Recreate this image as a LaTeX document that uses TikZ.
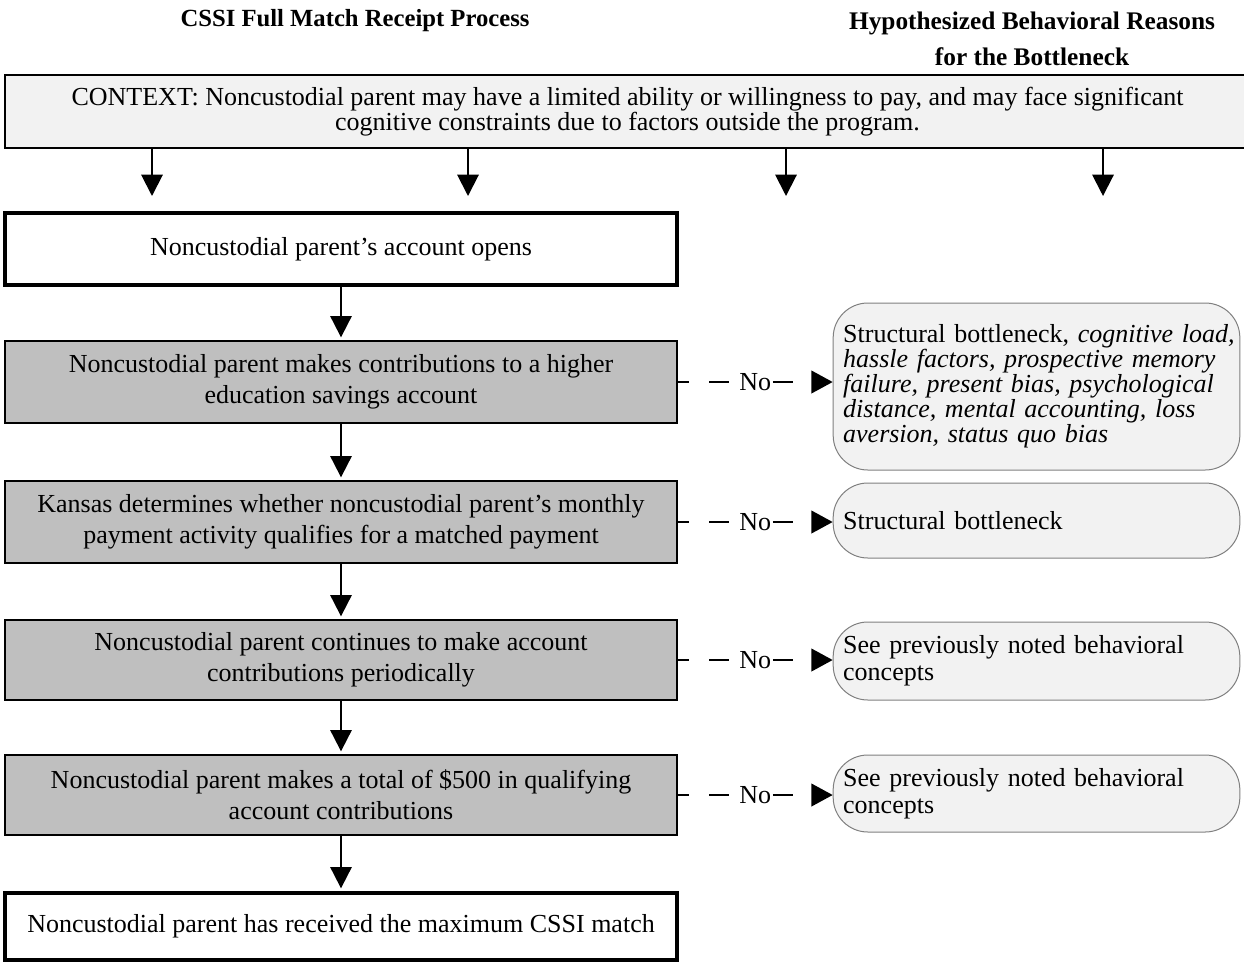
\documentclass[tikz,border=0pt]{standalone}
\usepackage{fontspec}
\setmainfont{Liberation Serif}
\usetikzlibrary{arrows.meta}
\definecolor{boxgray}{HTML}{BFBFBF}
\definecolor{palegray}{HTML}{F2F2F2}
\definecolor{edgegray}{HTML}{808080}

\begin{document}
\begin{tikzpicture}[x=0.75pt,y=-0.75pt,
  every node/.style={font=\fontsize{19.5}{23.25}\selectfont},
  flow/.style={line width=1.5pt,-{Triangle[length=16pt,width=16pt]},shorten >=2pt},
  nolink/.style={line width=1.5pt,dash pattern=on 15pt off 15pt},
  nolabel/.style={inner sep=1pt},
  process/.style={draw,line width=1.5pt,fill=boxgray,minimum width=504pt,
    minimum height=61.5pt,align=center,inner sep=0pt},
  endpoint/.style={process,line width=3pt,fill=white},
  reason/.style={draw=edgegray,line width=0.75pt,fill=palegray,rounded corners=26pt,
    text width=290pt,align=left,inner xsep=7.5pt,inner ysep=0pt}]
  \useasboundingbox (0,0) rectangle (1244,964);

  % headings
  \node[font=\fontsize{18.5}{27}\selectfont\bfseries] (head1) at (355,21) {CSSI Full Match Receipt Process};
  \node[font=\fontsize{19}{27}\selectfont\bfseries,align=center,anchor=north] (head2) at (1032,7)
    {Hypothesized Behavioral Reasons\\for the Bottleneck};

  % context
  \node[draw,line width=1.5pt,fill=palegray,minimum width=933.75pt,minimum height=54.75pt,
    align=center,inner sep=0pt,font=\fontsize{19.5}{18.75}\selectfont] (ctx) at (627.5,111.5)
    {CONTEXT: Noncustodial parent may have a limited ability or willingness to pay, and may face significant\\
     cognitive constraints due to factors outside the program.};
  \foreach \name/\xpos in {c1/152,c2/468,c3/786,c4/1103} {
    \coordinate (\name) at (\xpos,196);
    \draw[flow,shorten >=0pt] (ctx.south -| \name) -- (\name);
  }

  % process
  \node[endpoint,minimum height=54pt] (open) at (341,249) {Noncustodial parent’s account opens};
  \node[process] (contrib) at (341,382)
    {Noncustodial parent makes contributions to a higher\\education savings account};
  \node[process] (kansas) at (341,522)
    {Kansas determines whether noncustodial parent’s monthly\\payment activity qualifies for a matched payment};
  \node[process,minimum height=60pt] (cont) at (341,660)
    {Noncustodial parent continues to make account\\contributions periodically};
  \node[process,minimum height=60pt] (total) at (341,795)
    {Noncustodial parent makes a total of \$500 in qualifying\\account contributions};
  \node[endpoint,minimum height=50.25pt] (match) at (341,926.5)
    {Noncustodial parent has received the maximum CSSI match};

  \draw[flow] (open) -- (contrib);
  \draw[flow] (contrib) -- (kansas);
  \draw[flow] (kansas) -- (cont);
  \draw[flow] (cont) -- (total);
  \draw[flow] (total) -- (match);

  % reasons
  \node[reason,minimum height=125.25pt,font=\fontsize{19.5}{18.75}\selectfont] (r1) at (1036.5,386.5)
    {\mbox{Structural bottleneck, \textit{cognitive load,}}\\
     \textit{hassle factors, prospective memory}\\
     \textit{failure, present bias, psychological}\\
     \textit{distance, mental accounting, loss}\\
     \textit{aversion, status quo bias}};
  \node[reason,minimum height=56.25pt] (r2) at (1036.5,520.5) {Structural bottleneck};
  \node[reason,minimum height=58.5pt,font=\fontsize{19.5}{20}\selectfont] (r3) at (1036.5,661)
    {See previously noted behavioral\\concepts};
  \node[reason,minimum height=57.75pt,font=\fontsize{19.5}{20}\selectfont] (r4) at (1036.5,793.5)
    {See previously noted behavioral\\concepts};

  % "No" branches
  \foreach \from/\to [count=\i] in {contrib/r1,kansas/r2,cont/r3,total/r4} {
    \path (\from.east) -- node[nolabel] (no\i) {No} (\from.east -| \to.west);
    \draw[nolink,dash phase=6.75pt] (\from.east) -- (no\i.west);
    \draw[nolink,-{Triangle[length=16pt,width=17pt]}] (no\i.east) -- (\from.east -| \to.west);
  }
\end{tikzpicture}
\end{document}
